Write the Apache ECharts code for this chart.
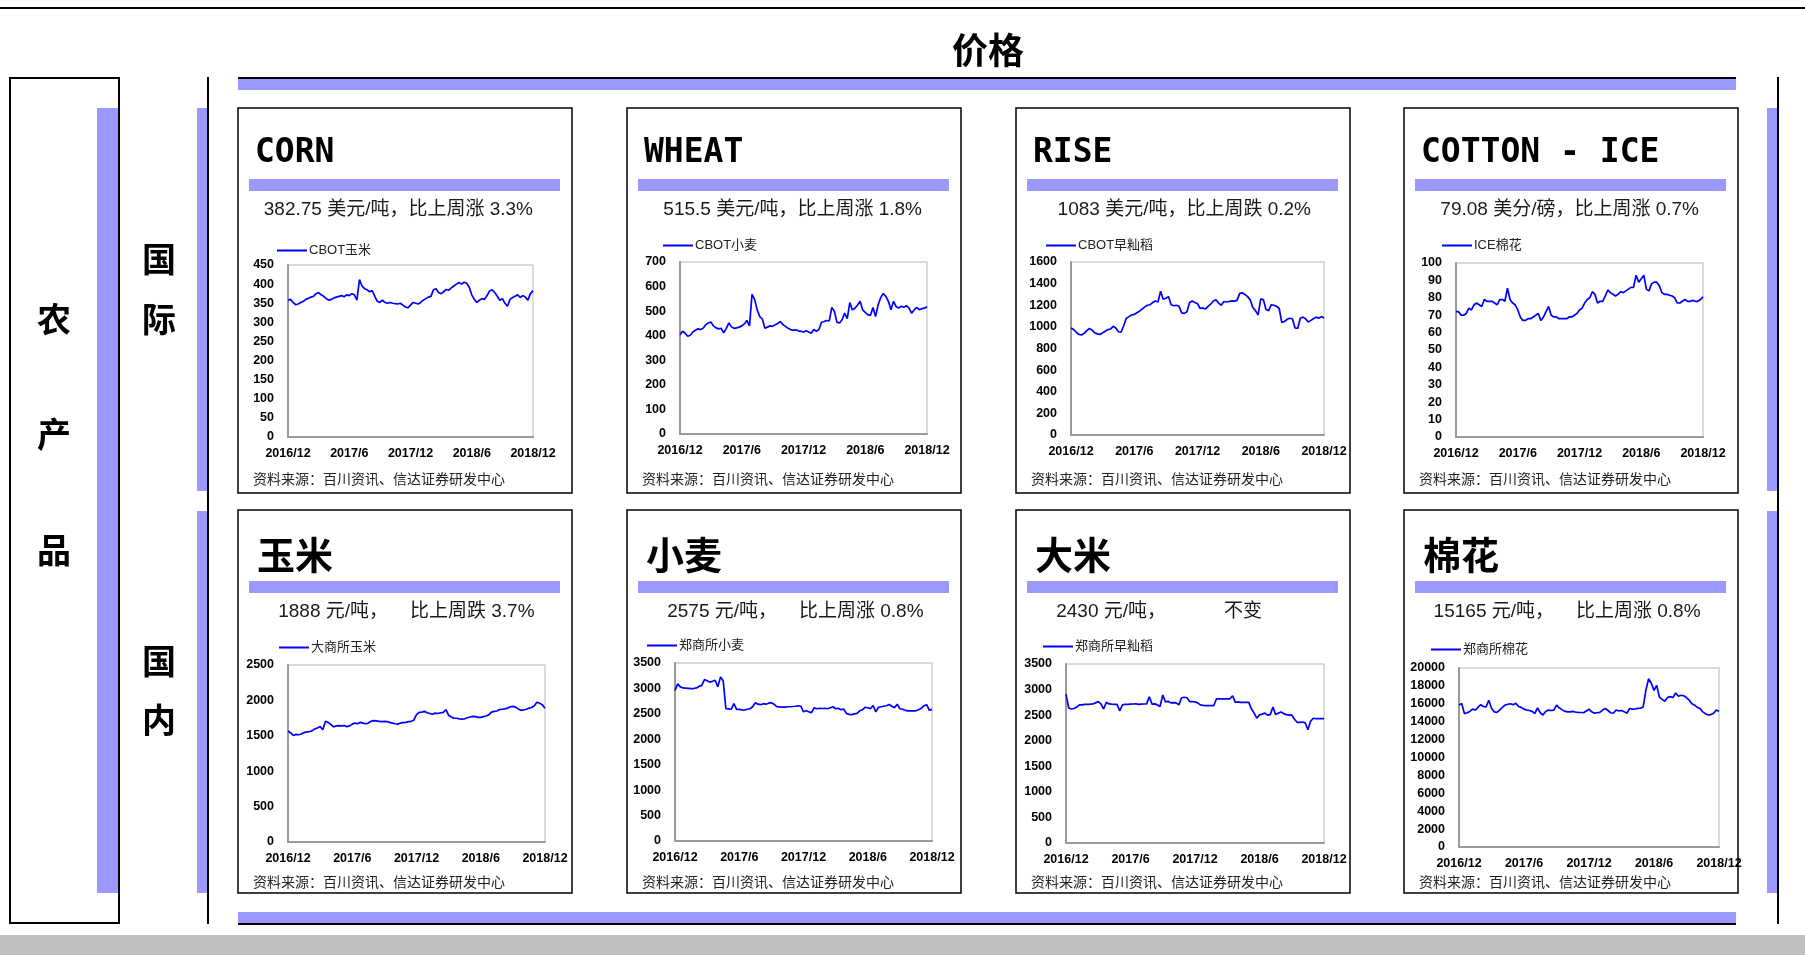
<!DOCTYPE html>
<html><head><meta charset="utf-8">
<script src="https://cdn.jsdelivr.net/npm/echarts@6/dist/echarts.min.js"></script>
<style>html,body{margin:0;padding:0;background:#fff}#c{width:1805px;height:960px}</style>
</head><body><div id="c"></div>
<script>
// ---------------- data ----------------
const xTickLabels = ['2016/12', '2017/6', '2017/12', '2018/6', '2018/12'];

const cornCBOT = [358,360,352,346,348,352,355,360,363,366, 368,375,378,372,368,362,358,360,364,366,
  368,370,367,372,370,375,372,358,412,395, 388,385,380,383,368,355,352,358,352,350,
  352,350,349,348,350,345,340,338,345,352, 350,348,352,358,362,366,368,385,388,378,
  375,380,386,384,390,395,400,404,400,405, 402,392,372,360,352,358,362,360,370,382,
  385,378,368,358,362,350,342,360,365,368, 372,365,370,366,358,375,383];

const wheatCBOT = [404,418,410,398,402,415,422,428,425,430, 445,452,456,440,432,428,430,412,430,452,
  436,430,432,435,440,448,462,440,568,548, 505,478,468,430,435,440,438,445,450,458,
  445,438,430,425,422,424,420,418,415,420, 415,410,425,418,425,455,458,462,460,515,
  500,455,452,465,492,470,535,505,512,525, 540,505,495,486,482,515,478,525,555,572,
  560,540,506,540,518,513,520,516,522,512, 492,505,515,506,510,512,518];

const riceCBOT = [990,975,950,930,925,940,965,985,970,945, 935,930,945,960,975,980,1005,990,955,950,
  1010,1080,1095,1110,1115,1130,1145,1165,1185,1200, 1205,1225,1240,1230,1330,1255,1265,1280,1205,1195,
  1200,1190,1130,1125,1140,1225,1240,1225,1215,1170, 1175,1165,1190,1210,1240,1250,1220,1200,1235,1230,
  1235,1240,1238,1245,1310,1315,1300,1280,1250,1180, 1150,1110,1260,1250,1160,1150,1205,1200,1190,1170,
  1040,1050,1070,1080,1075,990,985,1080,1090,1075, 1045,1060,1075,1090,1080,1095,1083];

const cottonICE = [72,72,70,70,71,74,73,76,77,76, 75,79,78,78,78,77,76,79,79,78,
  85.5,79,77,76,73,69,67,67,68,68, 69,70,71,67,69,72,75,70,69,69,
  68,68,68,68,69,69,70,71,73,74, 77,79,80,83.5,82,77,78,78,81,84.5,
  83,82,81,82,83.5,83,84,85,86,86, 93,89,91,93,85,84,88,89,89,87,
  83,82,82,81.5,81,80,77,77,78,79, 78,78,78.5,78,78,79,80.5];

const cornDCE = [1570,1540,1505,1520,1515,1525,1545,1555,1560,1570, 1598,1610,1630,1585,1705,1690,1660,1625,1640,1645,
  1640,1645,1630,1640,1665,1680,1670,1690,1680,1670, 1680,1705,1715,1710,1705,1700,1705,1700,1690,1680,
  1670,1665,1680,1685,1690,1700,1705,1720,1800,1830, 1835,1845,1825,1815,1805,1820,1815,1825,1830,1868,
  1790,1765,1750,1748,1740,1735,1740,1755,1765,1775, 1770,1760,1760,1770,1780,1795,1835,1845,1850,1870,
  1875,1880,1890,1910,1915,1905,1880,1860,1865,1875, 1890,1900,1925,1975,1960,1940,1888];

const wheatZCE = [2960,3090,3030,3010,3005,3000,2995,2998,3010,3040, 3060,3175,3150,3125,3140,3160,3030,3225,3150,2600,
  2598,2590,2700,2590,2588,2580,2575,2590,2600,2640, 2720,2690,2680,2700,2690,2710,2720,2690,2640,2636,
  2634,2632,2640,2640,2645,2650,2660,2650,2540,2560, 2540,2525,2620,2600,2610,2605,2610,2600,2620,2640,
  2600,2610,2580,2595,2510,2490,2485,2500,2510,2560, 2580,2630,2620,2600,2665,2540,2630,2640,2650,2660,
  2685,2650,2620,2690,2600,2590,2570,2560,2560,2558, 2560,2580,2610,2660,2680,2570,2588];

const riceZCE = [2910,2640,2620,2630,2660,2700,2700,2710,2712,2715, 2720,2740,2765,2720,2620,2750,2720,2715,2712,2710,
  2585,2700,2710,2712,2715,2718,2720,2712,2715,2718, 2720,2860,2715,2720,2700,2670,2895,2760,2770,2740,
  2745,2740,2700,2840,2850,2840,2765,2765,2760,2740, 2700,2690,2688,2688,2688,2688,2820,2820,2820,2820,
  2820,2820,2880,2750,2760,2750,2750,2750,2750,2620, 2540,2440,2505,2520,2540,2500,2510,2660,2510,2540,
  2560,2530,2510,2500,2505,2420,2360,2360,2365,2350, 2215,2380,2440,2430,2430,2430,2430];

const cottonZCE = [15850,16050,14900,15000,15150,15400,15300,15600,15900,15700, 15650,16400,15500,15100,15050,15300,15600,15850,15950,16000,
  15900,16050,15700,15600,15400,15300,15250,15150,14920,15550, 15000,14750,15150,15300,15250,15300,15850,15550,15350,15180,
  15100,15100,15150,15080,15050,15030,15000,15200,15400,15100, 14950,15000,15050,15300,15473,15250,15000,14950,15300,15200,
  15250,15100,14950,15470,15400,15420,15480,15500,15650,17500, 18800,18300,17500,18050,16750,16500,16290,16700,16800,16700,
  17200,16850,16950,16900,16700,16400,16000,15850,15600,15470, 15100,14900,14750,14800,14950,15300,15165];

const cardTitles = ['CORN', 'WHEAT', 'RISE', 'COTTON - ICE', '玉米', '小麦', '大米', '棉花'];
const seriesNames = ['CBOT玉米', 'CBOT小麦', 'CBOT早籼稻', 'ICE棉花', '大商所玉米', '郑商所小麦', '郑商所早籼稻', '郑商所棉花'];
const seriesValues = [cornCBOT, wheatCBOT, riceCBOT, cottonICE, cornDCE, wheatZCE, riceZCE, cottonZCE];
const yMaxes = [450, 700, 1600, 100, 2500, 3500, 3500, 20000];
const yIntervals = [50, 100, 200, 10, 500, 500, 500, 2000];
const infoIntl = ['382.75 美元/吨，比上周涨 3.3%', '515.5 美元/吨，比上周涨 1.8%', '1083 美元/吨，比上周跌 0.2%', '79.08 美分/磅，比上周涨 0.7%'];
const infoDomPrice = ['1888 元/吨，', '2575 元/吨，', '2430 元/吨，', '15165 元/吨，'];
const infoDomChange = ['比上周跌 3.7%', '比上周涨 0.8%', '不变', '比上周涨 0.8%'];
const sourceText = '资料来源：百川资讯、信达证券研发中心';
const pageTitle = '价格';
const sideLabel = '农产品';
const rowLabels = ['国际', '国内'];

// ---------------- layout ----------------
const PURPLE = '#9999FF';
const cardX = [238, 627, 1016, 1404];
const cardY = [108, 510];
const cardW = 334, cardH = [385, 383];
const grids = [
  [288, 265, 245, 172], [680, 262, 247, 172], [1071, 262, 253, 173], [1456, 263, 247, 174],
  [288, 665, 257, 177], [675, 663, 257, 178], [1066, 664, 258, 179], [1459, 668, 260, 179]
];
const legendPos = [[39, 144], [36, 139], [30, 139], [38, 139], [41, 139], [20, 137], [27, 138], [27, 141]];

const SANS = '"Liberation Sans", Arial, "Noto Sans CJK SC", sans-serif';
const CJK = '"Noto Sans CJK SC", sans-serif';

const graphics = [];
function rect(x, y, w, h, fill) { graphics.push({ type: 'rect', shape: { x, y, width: w, height: h }, style: { fill }, silent: true }); }
function box(x, y, w, h, lw) { graphics.push({ type: 'rect', shape: { x, y, width: w, height: h }, style: { fill: 'none', stroke: '#000', lineWidth: lw }, silent: true }); }
function text(x, y, t, font, opts) {
  graphics.push(Object.assign({ type: 'text', x, y, style: Object.assign({ text: t, font, fill: '#000', textAlign: 'left', textVerticalAlign: 'middle' }, opts || {}), silent: true }));
}

// page frame
rect(0, 7, 1805, 2, '#000');
rect(0, 935, 1805, 20, '#c0c0c0');
text(988, 50, pageTitle, 'bold 36px ' + CJK, { textAlign: 'center' });
box(10, 78, 109, 845, 2);
rect(97, 108, 21, 785, PURPLE);
const sideY = [319, 434, 550];
for (let i = 0; i < sideLabel.length; i++) text(54, sideY[i], sideLabel[i], 'bold 34px ' + CJK, { textAlign: 'center' });
rect(197, 108, 10, 383, PURPLE);
rect(197, 511, 10, 382, PURPLE);
rect(207, 77, 2, 847, '#000');
const rowLabelY = [[259, 319], [661, 720]];
rowLabels.forEach((lab, r) => { for (let i = 0; i < lab.length; i++) text(159, rowLabelY[r][i], lab[i], 'bold 34px ' + CJK, { textAlign: 'center' }); });
rect(238, 77, 1498, 2, '#000');
rect(238, 79, 1498, 11, PURPLE);
rect(238, 912, 1498, 11, PURPLE);
rect(238, 923, 1498, 2, '#000');
rect(1767, 108, 10, 383, PURPLE);
rect(1767, 511, 10, 382, PURPLE);
rect(1777, 77, 2, 847, '#000');

// cards
for (let k = 0; k < 8; k++) {
  const r = Math.floor(k / 4), c = k % 4;
  const x0 = cardX[c], y0 = cardY[r];
  box(x0, y0, cardW, cardH[r], 1.5);
  const isCJK = r === 1;
  text(x0 + (isCJK ? 19 : 17), y0 + 45, cardTitles[k], isCJK ? 'bold 38px ' + CJK : 'bold 33px "DejaVu Sans Mono", "Liberation Mono", monospace');
  rect(x0 + 11, y0 + 71, 311, 12, PURPLE);
  if (r === 0) {
    text(x0 + 295, y0 + 102, infoIntl[c], '19px ' + SANS, { textAlign: 'right', fill: '#1a1a1a' });
  } else {
    text(x0 + 150, y0 + 102, infoDomPrice[c], '19px ' + SANS, { textAlign: 'right', fill: '#1a1a1a' });
    text(x0 + (c === 2 ? 208 : 172), y0 + 102, infoDomChange[c], '19px ' + SANS, { fill: '#1a1a1a' });
  }
  text(x0 + 15, y0 + (r === 0 ? 371 : 372), sourceText, '14px ' + CJK, { fill: '#222' });
}

// ---------------- chart ----------------
const option = {
  animation: false,
  backgroundColor: '#fff',
  grid: grids.map(g => ({ left: g[0], top: g[1], width: g[2], height: g[3], show: true, borderColor: '#cfcfcf', borderWidth: 1.5, containLabel: false })),
  xAxis: grids.map((g, k) => ({
    type: 'value', gridIndex: k, min: 0, max: 96, interval: 24,
    axisLine: { show: true, lineStyle: { color: '#9a9a9a', width: 2 } },
    axisTick: { show: false }, splitLine: { show: false },
    axisLabel: { margin: 10, fontSize: 12.5, fontWeight: 'bold', color: '#000', fontFamily: SANS,
      showMinLabel: true, showMaxLabel: true, formatter: v => xTickLabels[Math.round(v / 24)] }
  })),
  yAxis: grids.map((g, k) => ({
    type: 'value', gridIndex: k, min: 0, max: yMaxes[k], interval: yIntervals[k],
    axisLine: { show: true, lineStyle: { color: '#9a9a9a', width: 2 } },
    axisTick: { show: false }, splitLine: { show: false },
    axisLabel: { margin: 14, fontSize: 12.5, fontWeight: 'bold', color: '#000', fontFamily: SANS, formatter: v => String(v) }
  })),
  legend: seriesNames.map((n, k) => {
    const r = Math.floor(k / 4), c = k % 4;
    return {
      data: [{ name: n, icon: 'rect', itemStyle: { color: '#0000FF', borderWidth: 0 } }],
      left: cardX[c] + legendPos[k][0], top: cardY[r] + legendPos[k][1] - 8,
      padding: 0, itemWidth: 30, itemHeight: 2, itemGap: 0,
      textStyle: { fontSize: 13, color: '#222', fontFamily: SANS, padding: [0, 0, 0, -3] }
    };
  }),
  series: seriesValues.map((vals, k) => ({
    name: seriesNames[k], type: 'line', xAxisIndex: k, yAxisIndex: k,
    data: vals.map((v, i) => [i, v]), showSymbol: false, symbol: 'none',
    lineStyle: { color: '#0000FF', width: 1.7 }, itemStyle: { color: '#0000FF' }
  })),
  graphic: { elements: graphics }
};
const chart = echarts.init(document.getElementById('c'));
chart.setOption(option);
</script>
</body></html>
